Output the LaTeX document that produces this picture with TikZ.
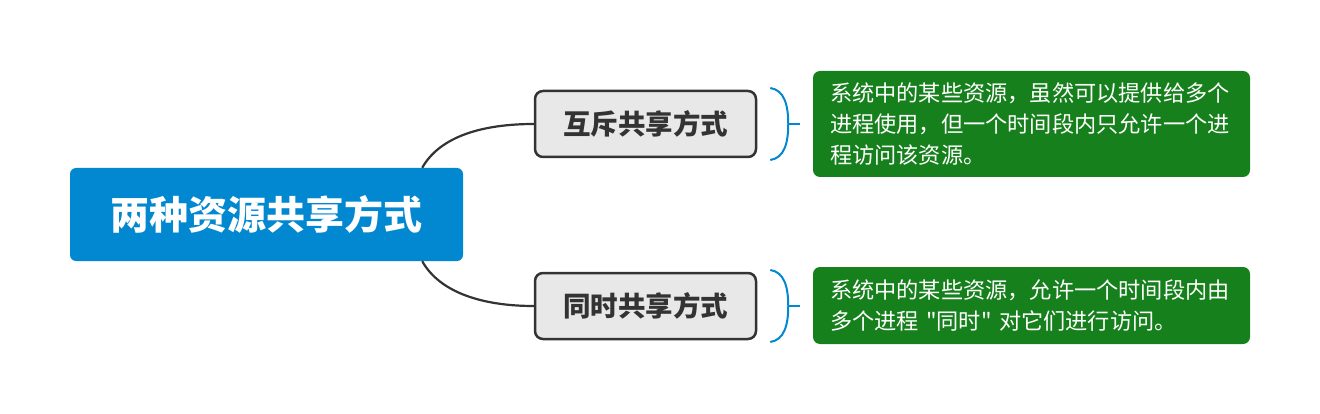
\documentclass[tikz,border=0pt]{standalone}
\usepackage{fontspec}
\newfontfamily\cjk{Noto Sans CJK SC}
\usepackage{tikz}
\usetikzlibrary{calc,positioning}

\definecolor{rootblue}{HTML}{0288D1}
\definecolor{leafgreen}{HTML}{16801C}
\definecolor{boxgray}{HTML}{E8E8E8}
\definecolor{linegray}{HTML}{333333}

\tikzset{
  rootbox/.style={fill=rootblue, text=white, rounded corners=6pt,
    minimum width=393pt, minimum height=93pt,
    font=\cjk\bfseries\fontsize{39}{44}\selectfont},
  sharebox/.style={fill=boxgray, draw=linegray, line width=2.5pt,
    rounded corners=8pt, minimum width=221pt, minimum height=66pt,
    text=linegray, font=\cjk\bfseries\fontsize{27.5}{32}\selectfont},
  leafbox/.style={fill=leafgreen, text=white, rounded corners=7pt,
    minimum width=437pt, text width=403pt, align=left, inner xsep=17pt,
    font=\cjk\fontsize{22.2}{31}\selectfont},
  link/.style={draw=linegray, line width=2.2pt},
  brace/.style={draw=rootblue, line width=2pt}
}

\begin{document}
\begin{tikzpicture}[x=1pt,y=-1pt]
\useasboundingbox (0,0) rectangle (1320,414);
\node[rootbox] (root) at (266.5,214.5) {两种资源共享方式};
\node[sharebox] (mutex) at (645.5,124) {互斥共享方式};
\node[sharebox] (simul) at (645.5,306) {同时共享方式};
\node[leafbox, minimum height=106pt] (mutexinfo) at (1031.5,124)
  {系统中的某些资源，虽然可以提供给多个\\进程使用，但一个时间段内只允许一个进\\程访问该资源。};
\node[leafbox, minimum height=77pt] (simulinfo) at (1031.5,305.5)
  {系统中的某些资源，允许一个时间段内由\\多个进程 "同时" 对它们进行访问。};
% root to branches
\draw[link] ($(root.north east)+(-41,0)$) .. controls +(18,-32) and +(-50,0) .. (mutex.west);
\draw[link] ($(root.south east)+(-41,0)$) .. controls +(18,32) and +(-50,0) .. (simul.west);
% braces before the notes
\foreach \b in {mutex,simul}{
  \draw[brace] ($(\b.east)+(13,-36)$) .. controls +(14,2) and +(0,-19) .. ($(\b.east)+(31,0)$)
    .. controls +(0,19) and +(14,-2) .. ($(\b.east)+(13,36)$);
  \draw[brace] ($(\b.east)+(31,0)$) -- ($(\b.east)+(43,0)$);
}
\end{tikzpicture}
\end{document}
